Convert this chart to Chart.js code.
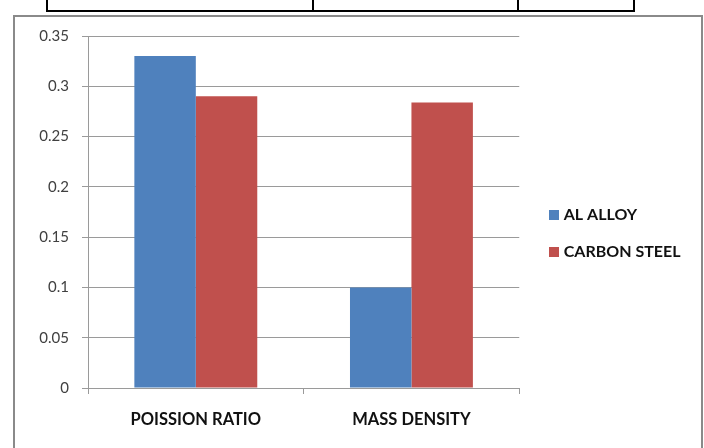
<!DOCTYPE html>
<html>
<head>
<meta charset="utf-8">
<script src="https://cdn.jsdelivr.net/npm/chart.js@4"></script>
<style>
  body { margin: 0; width: 704px; height: 448px; overflow: hidden; background: #fff; position: relative; }
  .cell { position: absolute; top: -2px; height: 12px; border: 2px solid #000; border-top: none; }
  #frame { position: absolute; left: 13px; top: 15px; width: 686px; height: 440px; border: 2px solid #8a8a8a; border-bottom: none; background: #fff; }
  #wrap { position: absolute; left: 1px; top: 0; width: 684px; height: 433px; }
</style>
</head>
<body>
<div class="cell" style="left:46px;width:264px"></div>
<div class="cell" style="left:312px;width:203px"></div>
<div class="cell" style="left:517px;width:114px"></div>
<div id="frame"><div id="wrap"><canvas id="chart"></canvas></div></div>
<script>
const categories = ["POISSION RATIO", "MASS DENSITY"];
const alAlloy = [0.33, 0.1];
const carbonSteel = [0.29, 0.284];
const yTicks = [0, 0.05, 0.1, 0.15, 0.2, 0.25, 0.3, 0.35];

const blue = "#4f81bd";
const red = "#c0504d";
const gridGray = "#9a9a9a";

// legend swatch: 10px square sitting at the right end of a wider image,
// which leaves the gap between the plot and the legend squares
function swatch(color) {
  const c = document.createElement("canvas");
  c.width = 22; c.height = 10;
  const g = c.getContext("2d");
  g.fillStyle = color;
  g.fillRect(12, 0, 10, 10);
  return c;
}
const swatches = [swatch(blue), swatch(red)];

const ctx = document.getElementById("chart").getContext("2d");
Chart.defaults.font.family = "Lato, 'Open Sans', sans-serif";

new Chart(ctx, {
  type: "bar",
  data: {
    labels: categories,
    datasets: [
      { label: "AL ALLOY", data: alAlloy, backgroundColor: blue },
      { label: "CARBON STEEL", data: carbonSteel, backgroundColor: red }
    ]
  },
  options: {
    responsive: true,
    maintainAspectRatio: false,
    animation: false,
    layout: { padding: { top: 0, right: 13, bottom: 0, left: 0 } },
    datasets: { bar: { categoryPercentage: 0.57, barPercentage: 1.0 } },
    plugins: {
      tooltip: { enabled: false },
      legend: {
        position: "right",
        align: "center",
        labels: {
          usePointStyle: true,
          pointStyleWidth: 15.5,
          boxHeight: 10,
          padding: 21,
          color: "#111",
          font: { size: 16, weight: "bold" },
          generateLabels: chart => Chart.defaults.plugins.legend.labels.generateLabels(chart)
            .map((item, i) => Object.assign(item, { pointStyle: swatches[i] }))
        }
      }
    },
    scales: {
      x: {
        grid: { drawOnChartArea: false, drawTicks: true, tickLength: 6, color: gridGray },
        border: { color: gridGray },
        ticks: { color: "#111", padding: 16, font: { size: 16.5, weight: "bold" } },
        afterFit: s => { s.height = 62; }
      },
      y: {
        min: 0, max: 0.35,
        afterBuildTicks: s => { s.ticks = yTicks.map(v => ({ value: v })); },
        grid: { color: gridGray, tickLength: 6 },
        border: { color: gridGray },
        ticks: { color: "#404040", padding: 13, font: { size: 15 }, callback: v => String(+v.toFixed(2)) },
        // top gap of the plot comes from here, so the legend stays centred on the whole frame
        afterFit: s => { s.width = 72; s.paddingTop = 19; }
      }
    }
  }
});
</script>
</body>
</html>
